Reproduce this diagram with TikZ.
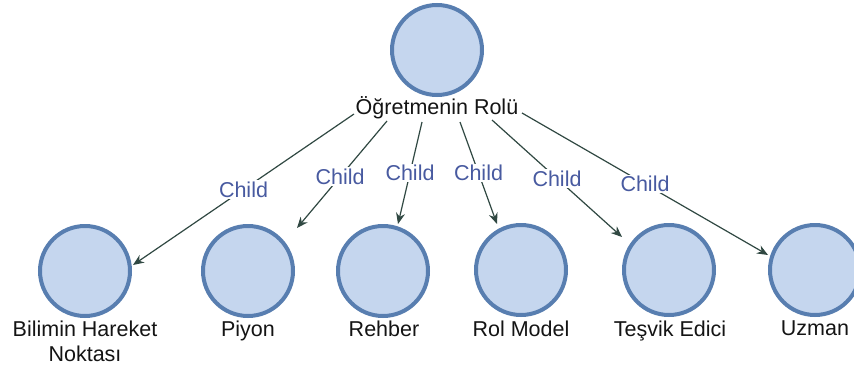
\documentclass[tikz,border=0pt]{standalone}
\usepackage{fontspec}
\setmainfont{Liberation Sans}
\usetikzlibrary{arrows.meta}
\definecolor{cfill}{RGB}{197,214,238}
\definecolor{cdraw}{RGB}{88,126,176}
\definecolor{edgec}{RGB}{48,72,66}
\definecolor{lblc}{RGB}{72,90,160}
\definecolor{txtc}{RGB}{20,20,20}
\tikzset{
  ent/.style={circle, draw=cdraw, fill=cfill, line width=4pt, minimum size=90pt, inner sep=0pt},
  entlabel/.style={text=txtc, font=\fontsize{21.5}{25}\selectfont, align=center, inner sep=1pt},
  rel/.style={draw=edgec, line width=1.2pt, -{Stealth[length=11pt,width=9pt]}},
  rellabel/.style={text=lblc, fill=white, font=\fontsize{21.5}{25}\selectfont, inner sep=1.5pt}
}
\begin{document}
\begin{tikzpicture}[x=1pt,y=-1pt]
\useasboundingbox (0,0) rectangle (854,372);
\clip (0,0) rectangle (854,372);
% circles
\node[ent] (top) at (437,50) {};
\node[ent] (c1) at (85,271) {};
\node[ent] (c2) at (248,271) {};
\node[ent] (c3) at (383,271) {};
\node[ent] (c4) at (521,270) {};
\node[ent] (c5) at (669,270) {};
\node[ent] (c6) at (815,270) {};
% labels
\node[entlabel] (ltop) at (437,108) {Öğretmenin Rolü};
\node[entlabel, anchor=north] (l1) at (85,320) {Bilimin Hareket\\Noktası};
\node[entlabel, anchor=north] (l2) at (248,320) {Piyon};
\node[entlabel, anchor=north] (l3) at (384,320) {Rehber};
\node[entlabel, anchor=north] (l4) at (521,320) {Rol Model};
\node[entlabel, anchor=north] (l5) at (670,320) {Teşvik Edici};
\node[entlabel, anchor=north] (l6) at (815,320) {Uzman};
% edge ends
\coordinate (s1) at (354,114);
\coordinate (s2) at (387,121);
\coordinate (s3) at (422,122);
\coordinate (s4) at (460,122);
\coordinate (s5) at (492,120);
\coordinate (s6) at (522,113);
\coordinate (t1) at (133,265);
\coordinate (t2) at (297,228);
\coordinate (t3) at (398,224);
\coordinate (t4) at (497,224);
\coordinate (t5) at (622,237);
\coordinate (t6) at (768,255);
% connectors
\draw[rel] (s1) -- (t1) node[rellabel, pos=0.5] (e1) {Child};
\draw[rel] (s2) -- (t2) node[rellabel, pos=0.52] (e2) {Child};
\draw[rel] (s3) -- (t3) node[rellabel, pos=0.5] (e3) {Child};
\draw[rel] (s4) -- (t4) node[rellabel, pos=0.5] (e4) {Child};
\draw[rel] (s5) -- (t5) node[rellabel, pos=0.5] (e5) {Child};
\draw[rel] (s6) -- (t6) node[rellabel, pos=0.5] (e6) {Child};
\end{tikzpicture}
\end{document}
